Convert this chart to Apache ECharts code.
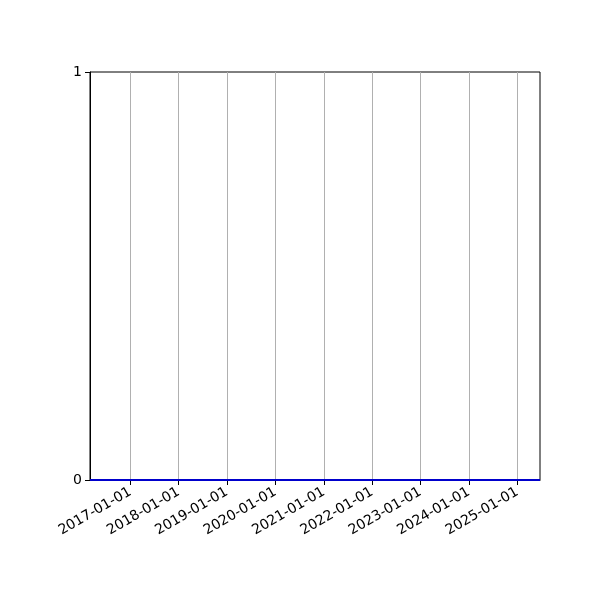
<!DOCTYPE html>
<html>
<head>
<meta charset="utf-8">
<script src="https://cdn.jsdelivr.net/npm/echarts@6/dist/echarts.min.js"></script>
<style>
  html, body { margin: 0; padding: 0; background: #fff; }
  #chart { width: 600px; height: 600px; }
</style>
</head>
<body>
<div id="chart"></div>
<script>
// series: flat at zero across the whole range
const dates = ['2016-03-03', '2017-01-01', '2018-01-01', '2019-01-01', '2020-01-01',
  '2021-01-01', '2022-01-01', '2023-01-01', '2024-01-01', '2025-01-01', '2025-06-21'];
const values = [0, 0, 0, 0, 0, 0, 0, 0, 0, 0, 0];

const tickDates = ['2017-01-01', '2018-01-01', '2019-01-01', '2020-01-01', '2021-01-01',
  '2022-01-01', '2023-01-01', '2024-01-01', '2025-01-01'];
const yTicks = [0, 1];

const toTs = d => new Date(d + 'T00:00:00Z').getTime();
const tickTs = tickDates.map(toTs);

const pad = n => String(n).padStart(2, '0');
const fmtDate = ts => {
  const d = new Date(ts);
  return d.getUTCFullYear() + '-' + pad(d.getUTCMonth() + 1) + '-' + pad(d.getUTCDate());
};

const chart = echarts.init(document.getElementById('chart'));

chart.setOption({
  animation: false,
  textStyle: { fontFamily: 'DejaVu Sans' },
  grid: {
    left: 90, right: 60, top: 72, bottom: 120,
    show: true, borderColor: '#000', borderWidth: 1, backgroundColor: '#fff'
  },
  xAxis: {
    type: 'value',
    min: toTs(dates[0]),
    max: toTs(dates[dates.length - 1]),
    axisLine: { show: true, lineStyle: { color: '#000', width: 1 } },
    axisTick: {
      show: true, inside: false, length: 5,
      customValues: tickTs,
      lineStyle: { color: '#000' }
    },
    axisLabel: {
      customValues: tickTs,
      rotate: 30,
      color: '#000',
      fontSize: 14,
      margin: 11,
      formatter: v => fmtDate(v)
    },
    splitLine: { show: true, lineStyle: { color: '#b0b0b0', width: 1 } }
  },
  yAxis: {
    type: 'value',
    min: yTicks[0],
    max: yTicks[1],
    interval: 1,
    axisLine: { show: true, lineStyle: { color: '#000', width: 1 } },
    axisTick: { show: true, length: 5, lineStyle: { color: '#000' } },
    axisLabel: { color: '#000', fontSize: 14, margin: 8 },
    splitLine: { show: false }
  },
  series: [{
    type: 'line',
    data: dates.map((d, i) => [toTs(d), values[i]]),
    showSymbol: false,
    clip: false,
    z: 10,
    lineStyle: { color: '#0000cc', width: 2 }
  }]
});
</script>
</body>
</html>
